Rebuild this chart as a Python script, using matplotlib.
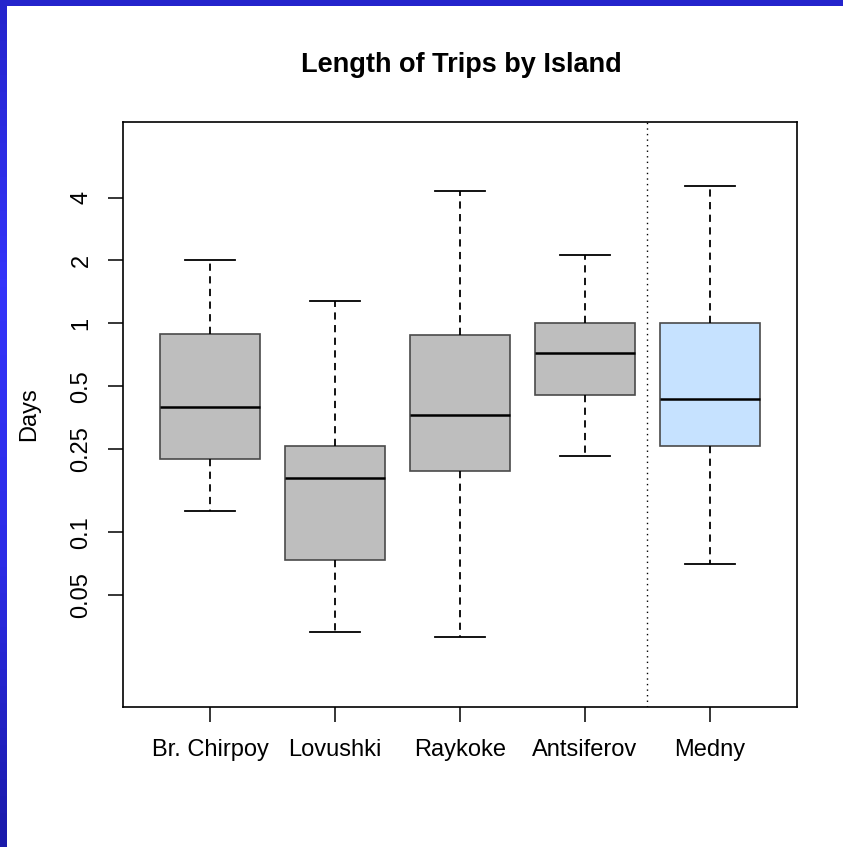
import numpy as np
import matplotlib
matplotlib.use('Agg')
import matplotlib.pyplot as plt
from matplotlib.colors import LinearSegmentedColormap

plt.rcParams['font.family'] = ['Liberation Sans', 'DejaVu Sans']

# ----------------------
# Dados
# ----------------------
ilhas = ['Br. Chirpoy', 'Lovushki', 'Raykoke', 'Antsiferov', 'Medny']
whisker_baixo = [0.127, 0.0335, 0.0317, 0.232, 0.0706]
q1 = [0.224, 0.0738, 0.196, 0.453, 0.259]
mediana = [0.397, 0.182, 0.363, 0.718, 0.433]
q3 = [0.886, 0.259, 0.88, 1.0, 1.0]
whisker_alto = [2.0, 1.287, 4.32, 2.135, 4.52]
cores = ['#bebebe', '#bebebe', '#bebebe', '#bebebe', '#c6e2ff']

y_ticks = [0.05, 0.1, 0.25, 0.5, 1, 2, 4]
y_labels = ['0.05', '0.1', '0.25', '0.5', '1', '2', '4']

# ----------------------
# Figura
# ----------------------
W, H = 843, 847
fig = plt.figure(figsize=(W/100, H/100), dpi=100)
ax = fig.add_axes([123/W, 1 - 707/H, (797 - 123)/W, (707 - 122)/H])

stats = []
for i in range(len(ilhas)):
    stats.append({
        'label': ilhas[i],
        'whislo': whisker_baixo[i],
        'q1': q1[i],
        'med': mediana[i],
        'q3': q3[i],
        'whishi': whisker_alto[i],
        'fliers': [],
    })

bp = ax.bxp(stats, positions=range(1, 6), widths=0.8, patch_artist=True,
            showfliers=False,
            boxprops=dict(edgecolor='#4a4a4a', linewidth=1.2),
            medianprops=dict(color='black', linewidth=1.8),
            whiskerprops=dict(color='black', linestyle=(0, (4, 3)), linewidth=1.3),
            capprops=dict(color='black', linewidth=1.3))
for caixa, cor in zip(bp['boxes'], cores):
    caixa.set_facecolor(cor)

ax.axvline(4.5, color='black', linestyle=(0, (1, 3)), linewidth=1)

ax.set_yscale('log')
ax.set_ylim(0.0146, 9.2)
ax.set_xlim(0.3, 5.7)
ax.set_yticks(y_ticks)
ax.set_yticklabels(y_labels, rotation=90, va='center')
ax.minorticks_off()
ax.set_xticks(range(1, 6))
ax.set_xticklabels(ilhas)

ax.tick_params(axis='y', length=11, width=1.1, pad=11, labelsize=17)
ax.tick_params(axis='x', length=11, width=1.1, pad=12, labelsize=17)
for s in ax.spines.values():
    s.set_linewidth(1.2)

ax.set_ylabel('Days', fontsize=17, labelpad=22)
fig.text(461/W, 1 - 65/H, 'Length of Trips by Island', ha='center',
         va='center', fontsize=19.5, fontweight='bold')

# moldura azul (gradiente)
azul = LinearSegmentedColormap.from_list('azul', ['#2424cc', '#3434fa', '#2c2ce6', '#1a1aaa'])
ax_topo = fig.add_axes([0, 1 - 6/H, 1, 6/H])
ax_topo.imshow([[0, 0]], cmap=azul, vmin=0, vmax=1, aspect='auto')
ax_topo.axis('off')
ax_esq = fig.add_axes([0, 0, 7/W, 1])
ax_esq.imshow(np.linspace(0, 1, 100).reshape(-1, 1), cmap=azul, aspect='auto')
ax_esq.axis('off')

fig.savefig('out.png', dpi=100)
